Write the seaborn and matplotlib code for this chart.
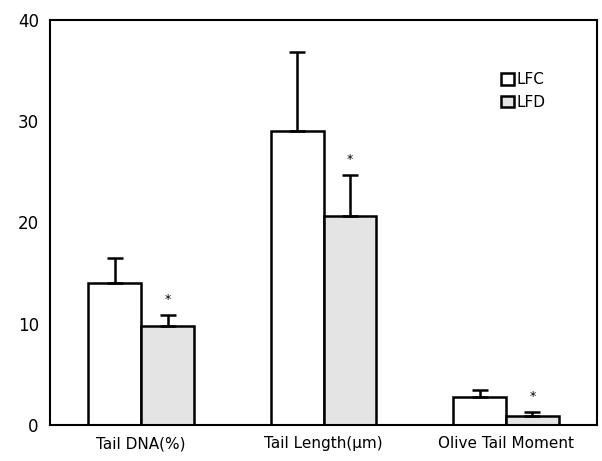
import pandas as pd
import seaborn as sns
import matplotlib.pyplot as plt

categories = ["Tail DNA(%)", "Tail Length(μm)", "Olive Tail Moment"]
groups = ["LFC", "LFD"]
lfc_mean = [14.0, 29.0, 2.8]
lfd_mean = [9.8, 20.6, 0.9]
lfc_err = [2.5, 7.8, 0.7]
lfd_err = [1.1, 4.1, 0.4]

df = pd.DataFrame({
    "category": categories * 2,
    "group": [groups[0]] * 3 + [groups[1]] * 3,
    "value": lfc_mean + lfd_mean,
})

sns.set_style("white")
plt.rcParams['font.family'] = ['DejaVu Sans']
plt.rcParams['text.color'] = 'black'
plt.rcParams['xtick.color'] = 'black'
plt.rcParams['ytick.color'] = 'black'

fig, ax = plt.subplots(figsize=(6.02, 4.61), dpi=100)
fig.subplots_adjust(left=0.083, right=0.992, top=0.957, bottom=0.078)

sns.barplot(data=df, x="category", y="value", hue="group", order=categories,
            hue_order=groups, palette=["white", "#e4e4e4"], width=0.58,
            edgecolor="black", linewidth=1.8, errorbar=None, ax=ax)

# error bars (upper only) and significance stars
errs = lfc_err + lfd_err
for i, (bar, e) in enumerate(zip(ax.patches[:6], errs)):
    xc = bar.get_x() + bar.get_width() / 2
    h = bar.get_height()
    ax.errorbar(xc, h, yerr=[[0], [e]], fmt="none", ecolor="black",
                elinewidth=1.8, capsize=6, capthick=1.8)
    if i >= 3:
        ax.text(xc, h + e + 1.5, "*", ha="center", va="center", fontsize=9)

ax.set_xlim(-0.5, 2.5)
ax.set_ylim(0, 40)
ax.set_yticks([0, 10, 20, 30, 40])
ax.set_xlabel("")
ax.set_ylabel("")
ax.set_xticks([0.5, 1.5], minor=True)
ax.tick_params(axis="y", direction="in", length=4, width=1.2, labelsize=12, pad=8)
ax.tick_params(axis="x", which="major", length=0, labelsize=11, pad=8)
ax.tick_params(axis="x", which="minor", direction="in", length=3, width=1)
for s in ax.spines.values():
    s.set_visible(True)
    s.set_color("black")
    s.set_linewidth(1.5)

leg = ax.legend(loc="upper left", bbox_to_anchor=(0.8, 0.905), frameon=False,
                fontsize=11, handlelength=0.8, handleheight=0.8,
                handletextpad=0.2, labelspacing=0.5)
for h in leg.legend_handles:
    h.set_linewidth(1.8)

fig.savefig("out.png", dpi=100)
